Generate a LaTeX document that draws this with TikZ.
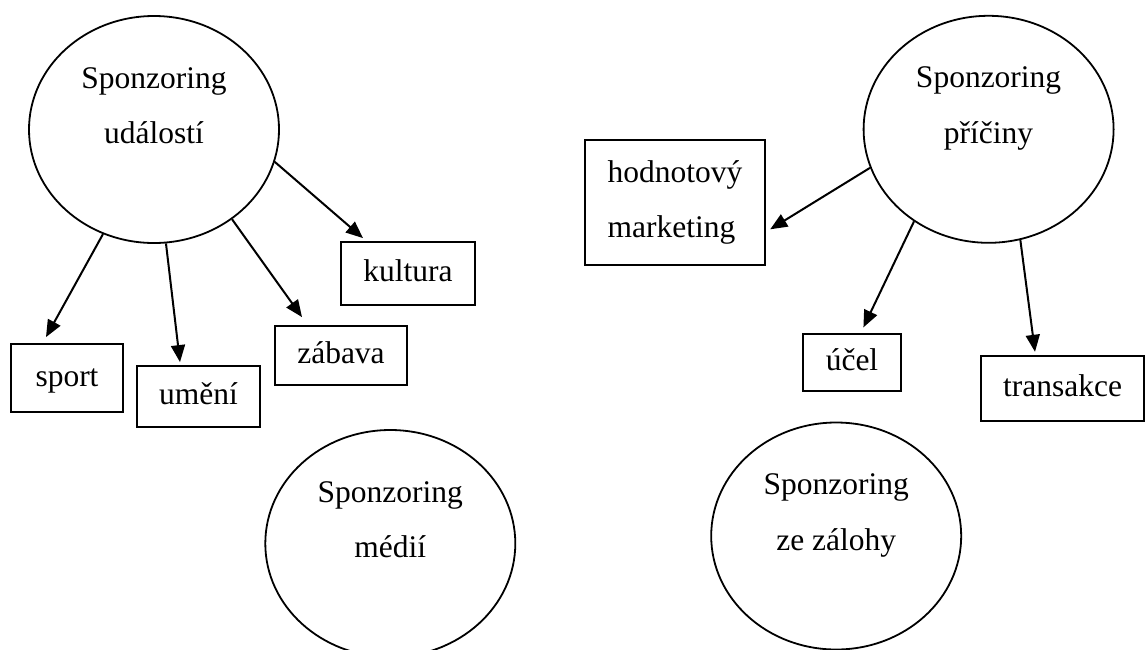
\documentclass[tikz,border=0pt]{standalone}
\usepackage{fontspec}
\setmainfont{Liberation Serif}
\usetikzlibrary{shapes.geometric, arrows.meta, positioning}

\begin{document}
\begin{tikzpicture}[x=1pt, y=-1pt, >={Triangle[length=17pt,width=14pt]},
    line width=1.8pt, font=\fontsize{31.5}{55.5}\selectfont]

    \tikzset{
      bubble/.style = {shape=ellipse, draw, minimum width=250pt,
        minimum height=227pt, inner sep=0pt},
      bubbletext/.style = {align=center, anchor=base, inner sep=0pt},
      item/.style = {shape=rectangle, draw, inner sep=0pt,
        text height=22pt, text depth=6pt},
      link/.style = {->, line width=2pt},
    }

    \clip (0,0) rectangle (1146,649);

    % Ellipsen
    \node[bubble] (ev) at (154,129.5) {};
    \node[bubble] (ca) at (988.6,129.3) {};
    \node[bubble] (me) at (390.3,543.5) {};
    \node[bubble] (za) at (836.2,536) {};

    \node[bubbletext] (evtext) at ([yshift=-14pt]ev.center) {Sponzoring\\událostí};
    \node[bubbletext] (catext) at ([yshift=-14pt]ca.center) {Sponzoring\\příčiny};
    \node[bubbletext] (metext) at ([yshift=-14pt]me.center) {Sponzoring\\médií};
    \node[bubbletext] (zatext) at ([yshift=-14pt]za.center) {Sponzoring\\ze zálohy};

    % Kasten
    \node[item, minimum width=112.6pt, minimum height=68pt] (sport)   at (67,378)     {sport};
    \node[item, minimum width=123pt,   minimum height=61pt] (umeni)   at (198.5,396.5) {umění};
    \node[item, minimum width=132pt,   minimum height=59pt] (zabava)  at (341,355.5)  {zábava};
    \node[item, minimum width=134pt,   minimum height=63pt] (kultura) at (408,273.5)  {kultura};
    \node[item, minimum width=98pt,    minimum height=57pt] (ucel)    at (852,362.5)  {účel};
    \node[item, minimum width=163pt,   minimum height=65pt] (trans)   at (1062.5,388.5) {transakce};
    \node[draw, align=left, inner sep=0pt, minimum width=180pt,
      minimum height=125pt] (hodnota) at (675,202.5) {hodnotový\\marketing};

    \path[link]
      (ev.-116) edge ([xshift=-21pt, yshift=6pt]sport.north)
      (ev.-84)  edge ([xshift=-18.5pt, yshift=3pt]umeni.north)
      (ev.-49)  edge ([xshift=-39pt, yshift=8pt]zabava.north)
      (ev.-15)  edge ([xshift=-45pt, yshift=3pt]kultura.north)
      (ca.-162) edge ([xshift=4.3pt, yshift=-26.8pt]hodnota.east)
      (ca.-129) edge ([xshift=11.4pt, yshift=5.7pt]ucel.north)
      (ca.-74)  edge ([xshift=-27.5pt, yshift=3.3pt]trans.north);

  \end{tikzpicture}
\end{document}
